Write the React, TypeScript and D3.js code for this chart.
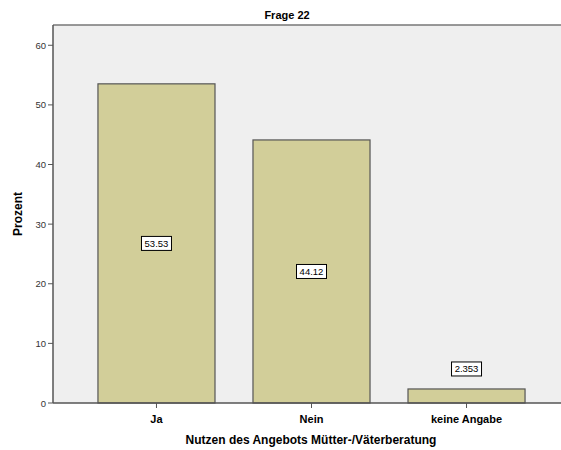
import React from 'react';
import * as d3 from 'd3';

const categories = ['Ja', 'Nein', 'keine Angabe'];
const percents = [53.53, 44.12, 2.353];
const valueLabels = ['53.53', '44.12', '2.353'];
const yTicks = [0, 10, 20, 30, 40, 50, 60];

const W = 561;
const H = 450;
const font = 'Arial, "Liberation Sans", sans-serif';

export default function App() {
  // plot area (the frame runs off the right edge like in the SPSS export)
  const left = 53;
  const right = 570;
  const top = 25;
  const bottom = 403;

  const x = d3
    .scaleBand()
    .domain(categories)
    .range([left, right])
    .paddingInner(0.245)
    .paddingOuter(0.29);
  const y = d3.scaleLinear().domain([0, 63.4]).range([bottom, top]);

  return (
    <svg
      width={W}
      height={H}
      style={{ position: 'absolute', left: 0, top: 0, background: '#fff' }}
      fontFamily={font}
    >
      <text x={287} y={19} textAnchor="middle" fontSize={11} fontWeight="bold" fill="#000">
        Frage 22
      </text>

      {/* plot background */}
      <rect x={left} y={top} width={right - left} height={bottom - top} fill="#efefef" />
      <line x1={left} x2={W} y1={top} y2={top} stroke="#777" strokeWidth={1.5} />

      {/* bars */}
      {categories.map((c, i) => (
        <rect
          key={c}
          x={x(c)}
          y={y(percents[i])}
          width={x.bandwidth()}
          height={bottom - y(percents[i])}
          fill="#d2ce99"
          stroke="#555"
          strokeWidth={1.2}
        />
      ))}

      {/* value labels */}
      {categories.map((c, i) => {
        const cx = (x(c) as number) + x.bandwidth() / 2;
        const h = bottom - y(percents[i]);
        const cy = h > 30 ? y(percents[i] / 2) : y(percents[i]) - 20;
        const bw = valueLabels[i].length * 5.2 + 4;
        return (
          <g key={'l' + c}>
            <rect x={cx - bw / 2} y={cy - 7} width={bw} height={14} fill="#fff" stroke="#000" strokeWidth={1} />
            <text x={cx} y={cy + 3.5} textAnchor="middle" fontSize={9.5} fill="#000">
              {valueLabels[i]}
            </text>
          </g>
        );
      })}

      {/* y axis */}
      <line x1={left} x2={left} y1={top} y2={bottom} stroke="#555" strokeWidth={1.5} />
      {yTicks.map((t) => (
        <g key={t}>
          <line x1={left - 5} x2={left} y1={y(t)} y2={y(t)} stroke="#555" strokeWidth={1} />
          <text x={left - 7} y={y(t) + 3.5} textAnchor="end" fontSize={9.5} fill="#333">
            {t}
          </text>
        </g>
      ))}
      <text
        transform={`translate(22,${(top + bottom) / 2}) rotate(-90)`}
        textAnchor="middle"
        fontSize={12}
        fontWeight="bold"
        fill="#000"
      >
        Prozent
      </text>

      {/* x axis */}
      <line x1={left} x2={W} y1={bottom} y2={bottom} stroke="#555" strokeWidth={1.5} />
      {categories.map((c) => {
        const cx = (x(c) as number) + x.bandwidth() / 2;
        return (
          <g key={'t' + c}>
            <line x1={cx} x2={cx} y1={bottom} y2={bottom + 5} stroke="#555" strokeWidth={1} />
            <text x={cx} y={bottom + 20} textAnchor="middle" fontSize={11} fontWeight="bold" fill="#000">
              {c}
            </text>
          </g>
        );
      })}
      <text x={311} y={444} textAnchor="middle" fontSize={12} fontWeight="bold" fill="#000">
        Nutzen des Angebots Mütter-/Väterberatung
      </text>
    </svg>
  );
}
